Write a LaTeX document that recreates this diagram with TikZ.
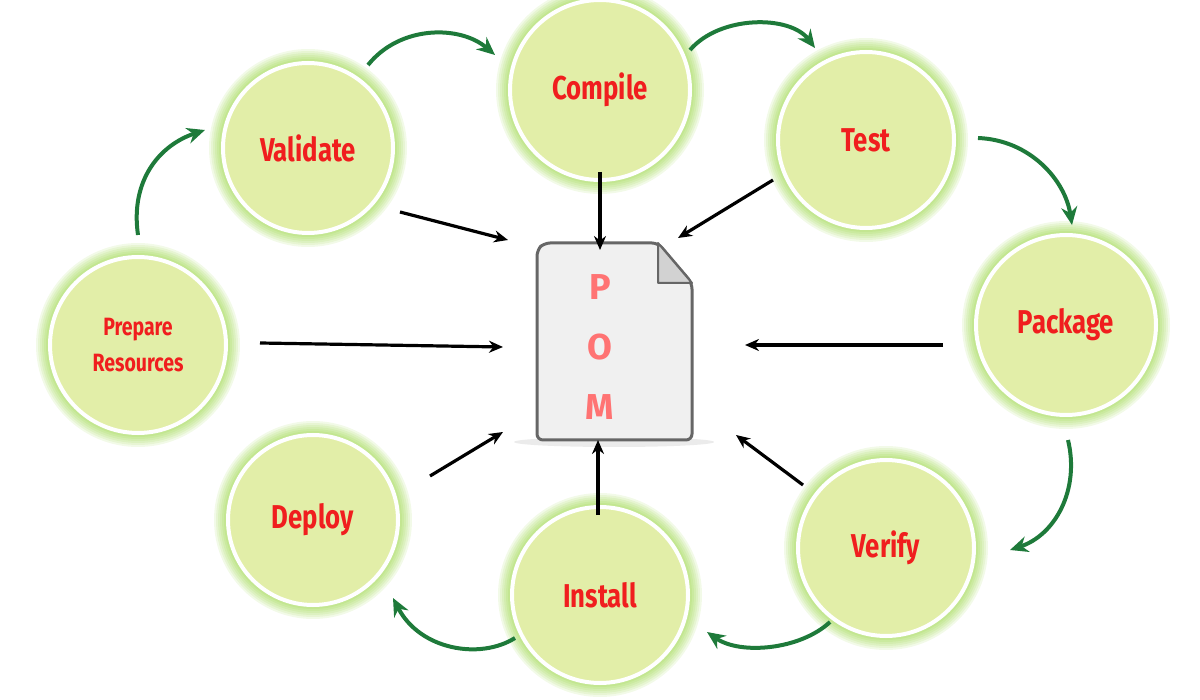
\documentclass[tikz,border=0pt]{standalone}
\usepackage{fontspec}
\setmainfont{Fira Sans}
\usetikzlibrary{arrows.meta}
\definecolor{ball}{HTML}{E2EEA8}
\definecolor{txt}{HTML}{F01E1E}
\definecolor{arr}{HTML}{1E7A3A}
\tikzset{
  phase/.style={circle,draw=white,line width=4pt,fill=ball,minimum size=#1,
    text=txt,font=\bfseries\fontsize{33}{36}\selectfont,align=center},
  blk/.style={-{Stealth[length=14pt,width=12pt]},line width=3.2pt,black},
  grn/.style={-{Stealth[length=18pt,width=16pt]},line width=4pt,arr},
}
\newcommand{\glow}[3]{%
  \foreach \k in {1,...,8}{\fill[#3,opacity=0.09] (#1) circle ({#2+16-\k*2});}
}
\begin{document}
\begin{tikzpicture}[x=1pt,y=-1pt]
\useasboundingbox (0,0) rectangle (1200,700);
\glow{308,148}{85}{green!55!orange}
\glow{600,90}{90}{green!55!orange}
\glow{866,140}{88}{green!55!orange}
\glow{1066,325}{90}{green!55!orange}
\glow{886,548}{88}{green!55!orange}
\glow{600,595}{88}{green!55!orange}
\glow{313,520}{85}{green!55!orange}
\glow{138,345}{88}{green!55!orange}
\node[phase=170pt] (val) at (308,148) {\scalebox{0.78}[1]{Validate}};
\node[phase=180pt] (com) at (600,90) {\scalebox{0.78}[1]{Compile}};
\node[phase=176pt] (tst) at (866,140) {\scalebox{0.78}[1]{Test}};
\node[phase=180pt] (pkg) at (1066,325) {\scalebox{0.78}[1]{Package}};
\node[phase=176pt] (ver) at (886,548) {\scalebox{0.78}[1]{Verify}};
\node[phase=176pt] (ins) at (600,595) {\scalebox{0.78}[1]{Install}};
\node[phase=170pt] (dep) at (313,520) {\scalebox{0.78}[1]{Deploy}};
\node[phase=176pt,font=\bfseries\fontsize{25}{36}\selectfont] (pre) at (138,345) {\scalebox{0.78}[1]{Prepare}\\\scalebox{0.78}[1]{Resources}};
% POM document
\fill[black,opacity=0.08] (614,442) ellipse (100 and 5);
\draw[gray!80!black,line width=3pt,rounded corners=6pt,fill=gray!12]
  (537,250) -- (537,440) -- (692,440) -- (692,283) -- (658,243) -- (544,243) -- cycle;
\draw[gray!80!black,line width=2pt,fill=gray!35,line join=round] (658,243) -- (658,283) -- (692,283) -- cycle;
\node[font=\bfseries\fontsize{36}{60}\selectfont,text=red!55,align=center] (pom) at (600,347) {P\\O\\M};
% black arrows
\coordinate (p1) at (508,240);\coordinate (p2) at (600,250);\coordinate (p3) at (678,238);
\coordinate (p4) at (503,347);\coordinate (p5) at (745,345);\coordinate (p6) at (736,435);
\coordinate (p7) at (598,440);\coordinate (p8) at (503,432);
\draw[blk] (400,212) -- (p1);
\draw[blk] (600,172) -- (p2);
\draw[blk] (773,180) -- (p3);
\draw[blk] (260,343) -- (p4);
\draw[blk] (943,345) -- (p5);
\draw[blk] (803,485) -- (p6);
\draw[blk] (598,515) -- (p7);
\draw[blk] (430,476) -- (p8);
% green arrows
\draw[grn] (138,235) .. controls (130,180) and (160,145) .. (205,130);
\draw[grn] (368,65) .. controls (400,25) and (460,25) .. (495,55);
\draw[grn] (690,50) .. controls (720,15) and (790,15) .. (815,48);
\draw[grn] (978,138) .. controls (1030,140) and (1065,180) .. (1072,225);
\draw[grn] (1068,440) .. controls (1080,490) and (1055,535) .. (1010,550);
\draw[grn] (830,622) .. controls (800,650) and (740,655) .. (707,632);
\draw[grn] (515,638) .. controls (480,660) and (420,650) .. (393,598);
\end{tikzpicture}
\end{document}
